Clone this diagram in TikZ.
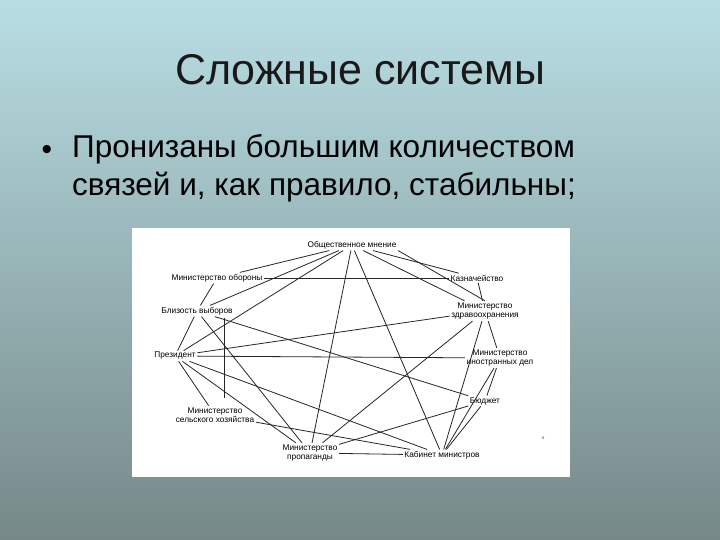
\documentclass[tikz,border=0pt]{standalone}
\usepackage{fontspec}
\setmainfont{Liberation Sans}
\begin{document}
\begin{tikzpicture}[x=1pt,y=-1pt,
  lbl/.style={font=\fontsize{8.3}{9.5}\selectfont, align=center, inner sep=1.5pt},
  ln/.style={draw=black!85, line width=0.8pt}]
\shade[top color={rgb,255:red,184;green,222;blue,228}, bottom color={rgb,255:red,118;green,136;blue,136}] (0,0) rectangle (720,540);
\useasboundingbox (0,0) rectangle (720,540);
\node[font=\fontsize{43}{48}\selectfont, text=black!90] (title) at (360,70) {Сложные системы};
\node[font=\fontsize{30}{34}\selectfont, anchor=west] (bul) at (38,152) {•};
\node[font=\fontsize{31.5}{38}\selectfont, anchor=north west, align=left, inner sep=0pt] (txt) at (72,134) {Пронизаны большим количеством\\связей и, как правило, стабильны;};
\node[fill=white, minimum width=438, minimum height=249, inner sep=0pt, anchor=north west] (panel) at (132,228) {};
\node[lbl] (om) at (352,245) {Общественное мнение};
\node[lbl] (mo) at (217,278) {Министерство обороны};
\node[lbl] (kz) at (477,278) {Казначейство};
\node[lbl] (bv) at (197,311) {Близость выборов};
\node[lbl] (zd) at (485,311) {Министерство\\здравоохранения};
\node[lbl] (pr) at (175,356) {Президент};
\node[lbl] (id) at (500,358) {Министерство\\иностранных дел};
\node[lbl] (bj) at (485,401) {Бюджет};
\node[lbl] (sh) at (215,415) {Министерство\\сельского хозяйства};
\node[lbl] (pp) at (310,453) {Министерство\\пропаганды};
\node[lbl] (km) at (442,455) {Кабинет министров};
\node[font=\fontsize{5}{6}\selectfont, text=black!60] (aa) at (543,438) {a};
\coordinate (v1) at (224,318);
\coordinate (v2) at (224,398);
\foreach \a/\b in {om/mo,om/bv,om/pr,om/pp,om/km,om/kz,om/zd,mo/kz,mo/bv,kz/zd,bv/pr,bv/bj,bv/pp,pr/zd,pr/id,pr/km,pr/pp,pr/sh,zd/pp,zd/km,zd/id,id/bj,id/km,bj/pp,bj/km,sh/km,pp/km}
  \draw[ln] (\a) -- (\b);
\draw[ln] (om.south east) -- (zd.north);
\draw[ln] (v1) -- (v2);
\end{tikzpicture}
\end{document}
